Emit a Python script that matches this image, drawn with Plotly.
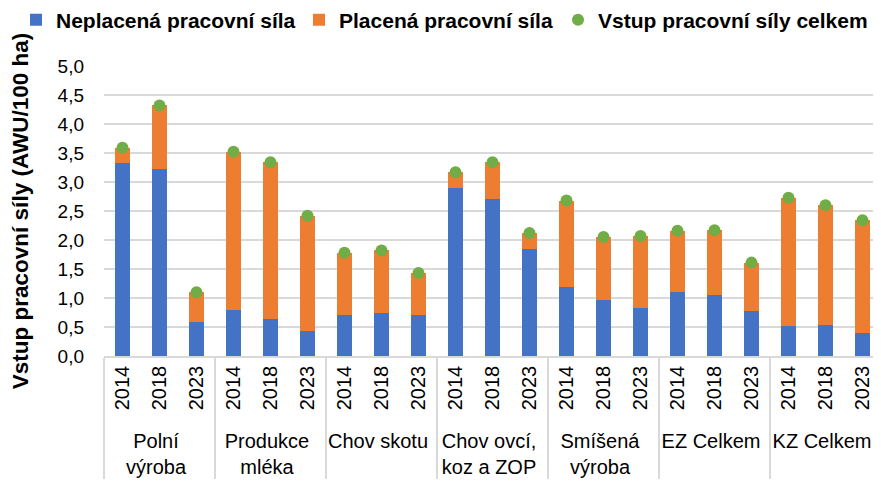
import plotly.graph_objects as go

groups = ["Polní<br>výroba", "Produkce<br>mléka", "Chov skotu", "Chov ovcí,<br>koz a ZOP",
          "Smíšená<br>výroba", "EZ Celkem", "KZ Celkem"]
years = ["2014", "2018", "2023"]

unpaid = [3.33, 3.22, 0.59,
          0.80, 0.64, 0.43,
          0.71, 0.74, 0.70,
          2.90, 2.71, 1.84,
          1.19, 0.96, 0.82,
          1.11, 1.05, 0.77,
          0.52, 0.54, 0.40]
total = [3.59, 4.32, 1.10,
         3.52, 3.34, 2.42,
         1.78, 1.82, 1.43,
         3.17, 3.34, 2.12,
         2.68, 2.05, 2.07,
         2.16, 2.17, 1.61,
         2.73, 2.60, 2.34]
paid = [round(t - u, 2) for t, u in zip(total, unpaid)]

x_outer = [g for g in groups for _ in years]
x_inner = [y for _ in groups for y in years]
x = [x_outer, x_inner]

font_family = "Liberation Sans, Arial, sans-serif"

# page body has an 8px margin, so the figure is drawn 8px smaller
W, H = 873, 477
ML, MR, MT, MB = 96, 0, 58, 129
plot_w = W - ML - MR
plot_h = H - MT - MB

fig = go.Figure()
fig.add_trace(go.Bar(x=x, y=unpaid, name="Neplacená pracovní síla", legendwidth=238,
                     marker=dict(color="#4472C4", line=dict(width=0))))
fig.add_trace(go.Bar(x=x, y=paid, name="Placená pracovní síla", legendwidth=214,
                     marker=dict(color="#ED7D31", line=dict(width=0))))
fig.add_trace(go.Scatter(x=x, y=total, mode="markers", name="Vstup pracovní síly celkem",
                         marker=dict(color="#70AD47", size=12)))

fig.update_layout(
    width=W, height=H,
    barmode="stack", bargap=0.595,
    separators=", ",
    plot_bgcolor="white", paper_bgcolor="white",
    font=dict(family=font_family, size=20, color="#000000"),
    margin=dict(l=ML, r=MR, t=MT, b=MB, autoexpand=False),
    legend=dict(orientation="h", xref="paper", yref="paper",
                x=(8 - ML) / plot_w, xanchor="left",
                y=(plot_h + MT - 12) / plot_h, yanchor="middle",
                font=dict(size=21, family=font_family, weight="bold"),
                traceorder="normal", itemwidth=30),
    yaxis=dict(range=[0, 5.0], dtick=0.5, tickformat=".1f",
               gridcolor="#D9D9D9", gridwidth=1.5, zeroline=False,
               showline=False, ticks="", tickfont=dict(size=19),
               ticklabelstandoff=19,
               title=dict(text="<b>Vstup pracovní síly (AWU/100 ha)</b>",
                          font=dict(size=22.5), standoff=27)),
    xaxis=dict(type="multicategory", range=[-0.5, len(x_inner) - 0.5],
               showline=True, linecolor="#D9D9D9", linewidth=1.5,
               tickangle=-90, tickfont=dict(size=20), showdividers=True,
               dividercolor="#D9D9D9", dividerwidth=1.5, ticks=""),
)

fig.write_html("out.html")
